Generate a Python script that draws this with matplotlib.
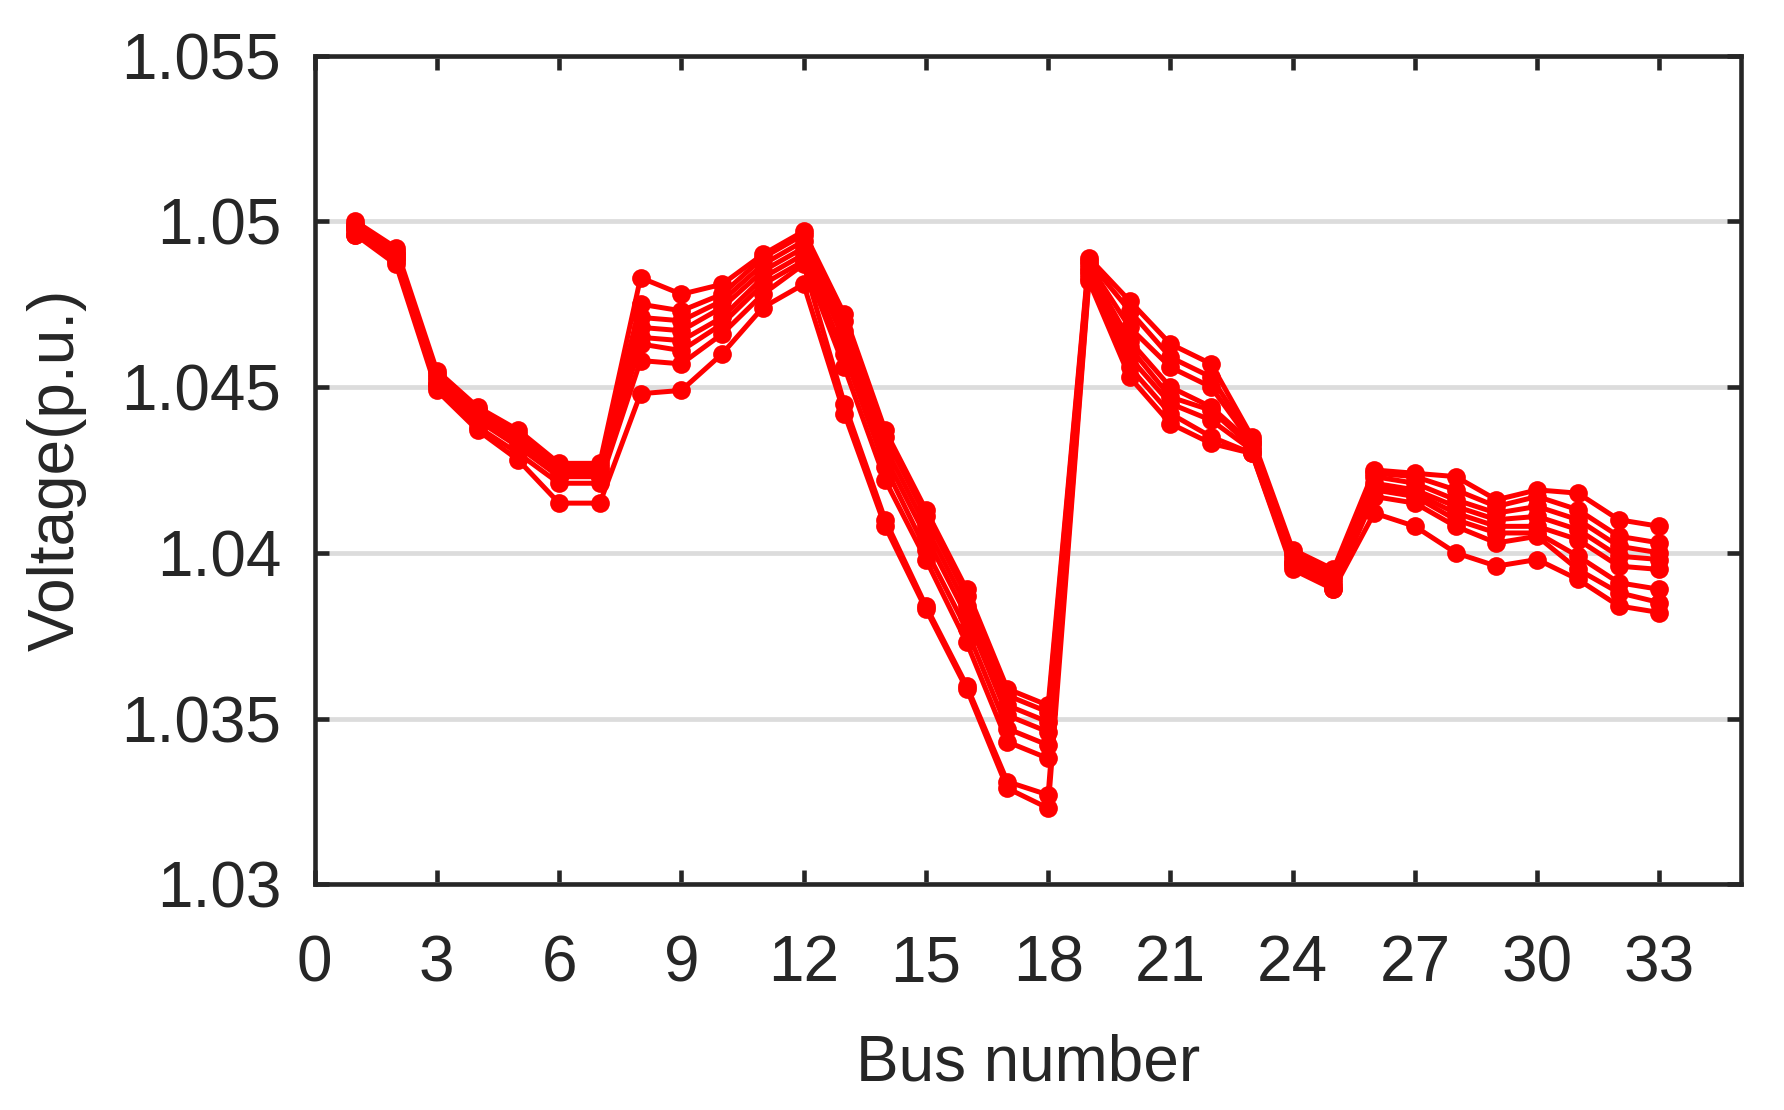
import numpy as np
import matplotlib
matplotlib.use("Agg")
import matplotlib.pyplot as plt

plt.rcParams['font.family'] = ['Liberation Sans', 'DejaVu Sans']

bus = list(range(1, 34))

# voltage profiles (p.u.), one list per scenario
v1 = [1.0500, 1.0492, 1.0455, 1.0444, 1.0437, 1.0427, 1.0427, 1.0483, 1.0478, 1.0481, 1.0490,
      1.0497, 1.0472, 1.0437, 1.0413, 1.0389, 1.0359, 1.0354, 1.0489, 1.0476, 1.0463, 1.0457,
      1.0435, 1.0401, 1.0395, 1.0425, 1.0424, 1.0423, 1.0416, 1.0419, 1.0418, 1.0410, 1.0408]
v2 = [1.0499, 1.0491, 1.0454, 1.0443, 1.0436, 1.0426, 1.0426, 1.0475, 1.0473, 1.0478, 1.0489,
      1.0496, 1.0470, 1.0435, 1.0411, 1.0387, 1.0357, 1.0352, 1.0488, 1.0473, 1.0459, 1.0453,
      1.0434, 1.0400, 1.0394, 1.0424, 1.0423, 1.0419, 1.0414, 1.0417, 1.0413, 1.0405, 1.0403]
v3 = [1.0499, 1.0490, 1.0453, 1.0443, 1.0435, 1.0425, 1.0425, 1.0471, 1.0470, 1.0476, 1.0487,
      1.0494, 1.0467, 1.0432, 1.0408, 1.0384, 1.0354, 1.0349, 1.0487, 1.0468, 1.0456, 1.0450,
      1.0433, 1.0399, 1.0393, 1.0423, 1.0421, 1.0416, 1.0412, 1.0414, 1.0410, 1.0402, 1.0400]
v4 = [1.0498, 1.0490, 1.0452, 1.0442, 1.0434, 1.0424, 1.0424, 1.0468, 1.0467, 1.0474, 1.0485,
      1.0492, 1.0464, 1.0429, 1.0405, 1.0381, 1.0351, 1.0346, 1.0486, 1.0464, 1.0450, 1.0444,
      1.0433, 1.0398, 1.0392, 1.0421, 1.0419, 1.0414, 1.0410, 1.0411, 1.0407, 1.0399, 1.0398]
v5 = [1.0498, 1.0489, 1.0451, 1.0441, 1.0433, 1.0423, 1.0423, 1.0465, 1.0464, 1.0471, 1.0483,
      1.0490, 1.0460, 1.0426, 1.0401, 1.0377, 1.0347, 1.0342, 1.0485, 1.0462, 1.0447, 1.0443,
      1.0432, 1.0397, 1.0391, 1.0420, 1.0418, 1.0412, 1.0408, 1.0408, 1.0404, 1.0396, 1.0395]
v6 = [1.0497, 1.0489, 1.0451, 1.0440, 1.0432, 1.0423, 1.0423, 1.0463, 1.0461, 1.0469, 1.0481,
      1.0488, 1.0456, 1.0422, 1.0398, 1.0373, 1.0343, 1.0338, 1.0484, 1.0459, 1.0445, 1.0440,
      1.0431, 1.0397, 1.0390, 1.0419, 1.0417, 1.0410, 1.0406, 1.0406, 1.0399, 1.0391, 1.0389]
v7 = [1.0496, 1.0488, 1.0450, 1.0438, 1.0430, 1.0421, 1.0421, 1.0458, 1.0457, 1.0466, 1.0478,
      1.0487, 1.0445, 1.0410, 1.0384, 1.0360, 1.0331, 1.0327, 1.0483, 1.0456, 1.0442, 1.0435,
      1.0430, 1.0396, 1.0389, 1.0417, 1.0415, 1.0408, 1.0403, 1.0405, 1.0395, 1.0388, 1.0385]
v8 = [1.0496, 1.0487, 1.0449, 1.0437, 1.0428, 1.0415, 1.0415, 1.0448, 1.0449, 1.0460, 1.0474,
      1.0481, 1.0442, 1.0408, 1.0383, 1.0359, 1.0329, 1.0323, 1.0482, 1.0453, 1.0439, 1.0433,
      1.0430, 1.0395, 1.0389, 1.0412, 1.0408, 1.0400, 1.0396, 1.0398, 1.0392, 1.0384, 1.0382]

xticks = list(range(0, 34, 3))
yticks = [1.03, 1.035, 1.04, 1.045, 1.05, 1.055]
ytick_labels = ['1.03', '1.035', '1.04', '1.045', '1.05', '1.055']

dark = '#262626'

fig = plt.figure(figsize=(17.84, 11.10), dpi=100)
ax = fig.add_axes([0.1763, 0.2032, 0.7996, 0.7468])

for v in [v1, v2, v3, v4, v5, v6, v7, v8]:
    ax.plot(bus, v, color='#ff0000', lw=3.6, marker='o', markersize=13.5, mew=0, zorder=3)

ax.set_xlim(0, 35)
ax.set_ylim(1.03, 1.055)
ax.set_xticks(xticks)
ax.set_yticks(yticks)
ax.set_yticklabels(ytick_labels)

ax.yaxis.grid(True, color='#dcdcdc', lw=3.4, zorder=0)
ax.set_axisbelow(True)

for s in ax.spines.values():
    s.set_color(dark)
    s.set_linewidth(3.3)

ax.tick_params(axis='both', direction='in', length=10, width=3.3, color=dark,
               labelsize=46, labelcolor=dark, top=True, right=True)
ax.tick_params(axis='x', pad=36)
ax.tick_params(axis='y', pad=24)

ax.set_xlabel('Bus number', fontsize=46, color=dark)
ax.set_ylabel('Voltage(p.u.)', fontsize=46, color=dark)
ax.xaxis.set_label_coords(0.5, -0.180)
ax.yaxis.set_label_coords(-0.160, 0.5)

fig.savefig('out.png', dpi=100)
